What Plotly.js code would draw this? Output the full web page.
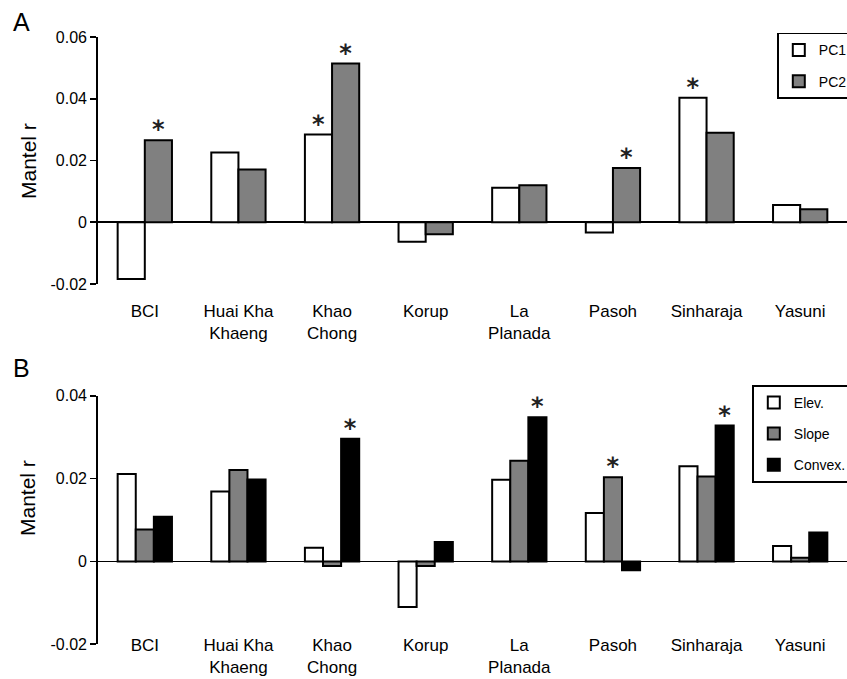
<!DOCTYPE html>
<html>
<head>
<meta charset="utf-8">
<script src="https://cdn.plot.ly/plotly-3.0.1.min.js"></script>
<style>html,body{margin:0;padding:0;background:#fff;}#chart{width:847px;height:679px;}</style>
</head>
<body>
<div id="chart"></div>
<script>
// ---- data ----
var sites = ['BCI', 'Huai Kha<br>Khaeng', 'Khao<br>Chong', 'Korup', 'La<br>Planada', 'Pasoh', 'Sinharaja', 'Yasuni'];

// Panel A
var pc1 = [-0.0184, 0.0226, 0.0284, -0.0063, 0.0112, -0.0033, 0.0403, 0.0056];
var pc2 = [0.0266, 0.0171, 0.0514, -0.0039, 0.0120, 0.0176, 0.0290, 0.0042];
var sigPC1 = [0, 0, 1, 0, 0, 0, 1, 0];
var sigPC2 = [1, 0, 1, 0, 0, 1, 0, 0];

// Panel B
var elev   = [0.0211, 0.0169, 0.0033, -0.0110, 0.0197, 0.0117, 0.0230, 0.0037];
var slope  = [0.0077, 0.0221, -0.0011, -0.0011, 0.0243, 0.0203, 0.0205, 0.0009];
var convex = [0.0108, 0.0198, 0.0296, 0.0047, 0.0348, -0.0021, 0.0328, 0.0070];
var sigElev   = [0, 0, 0, 0, 0, 0, 0, 0];
var sigSlope  = [0, 0, 0, 0, 0, 1, 0, 0];
var sigConvex = [0, 0, 1, 0, 1, 0, 1, 0];

var tickValsA = [-0.02, 0, 0.02, 0.04, 0.06];
var tickTextA = ['-0.02', '0', '0.02', '0.04', '0.06'];
var tickValsB = [-0.02, 0, 0.02, 0.04];
var tickTextB = ['-0.02', '0', '0.02', '0.04'];

// ---- helpers ----
function stars(sig) { return sig.map(function (s) { return s ? '\u204E' : ''; }); }
var FONT = 'Arial, "Liberation Sans", sans-serif';

function barTrace(name, vals, sig, color, xa, ya, leg) {
  return {
    type: 'bar', name: name, x: sites, y: vals, xaxis: xa, yaxis: ya,
    legend: leg, legendgroup: name,
    marker: {color: color, line: {color: '#000', width: 2}},
    text: stars(sig), textposition: 'outside', cliponaxis: false,
    constraintext: 'none',
    textfont: {family: '"DejaVu Sans", sans-serif', size: 24, color: '#222', weight: 'bold'},
    hoverinfo: 'x+y'
  };
}

var data = [
  barTrace('PC1', pc1, sigPC1, '#ffffff', 'x', 'y', 'legend'),
  barTrace('PC2', pc2, sigPC2, '#808080', 'x', 'y', 'legend'),
  barTrace('Elev.', elev, sigElev, '#ffffff', 'x2', 'y2', 'legend2'),
  barTrace('Slope', slope, sigSlope, '#808080', 'x2', 'y2', 'legend2'),
  barTrace('Convex.', convex, sigConvex, '#000000', 'x2', 'y2', 'legend2')
];

var xCommon = {
  type: 'category', domain: [0.1157, 1], showline: false, ticks: '',
  showgrid: false, zeroline: false,
  tickfont: {family: FONT, size: 17, color: '#000'}
};
var yCommon = {
  showline: true, linecolor: '#000', linewidth: 1.8, ticks: 'outside',
  ticklen: 6, tickwidth: 1.8, tickcolor: '#000', showgrid: false,
  zeroline: true, zerolinecolor: '#000', zerolinewidth: 1.8,
  tickfont: {family: FONT, size: 16, color: '#000'}
};

var layout = {
  width: 847, height: 679,
  margin: {l: 0, r: 0, t: 0, b: 0, autoexpand: false},
  paper_bgcolor: '#fff', plot_bgcolor: 'rgba(0,0,0,0)',
  showlegend: true,
  barmode: 'group',
  font: {family: FONT, color: '#000'},
  xaxis: Object.assign({}, xCommon, {anchor: 'free', position: 0.560}),
  yaxis: Object.assign({}, yCommon, {domain: [0.5817, 0.9455], range: [-0.02, 0.06],
    tickvals: tickValsA, ticktext: tickTextA, anchor: 'x'}),
  xaxis2: Object.assign({}, xCommon, {anchor: 'free', position: 0.068}),
  yaxis2: Object.assign({}, yCommon, {domain: [0.0511, 0.4172], range: [-0.02, 0.04],
    tickvals: tickValsB, ticktext: tickTextB, anchor: 'x2'}),
  bargap: 0.42,
  legend: {x: 777/847, y: 0.952, xanchor: 'left', yanchor: 'top',
    bordercolor: '#000', borderwidth: 1.8, bgcolor: '#fff',
    font: {family: FONT, size: 14, color: '#000'}, tracegroupgap: 10,
    traceorder: 'grouped', itemwidth: 30},
  legend2: {x: 752/847, y: 0.433, xanchor: 'left', yanchor: 'top',
    bordercolor: '#000', borderwidth: 1.8, bgcolor: '#fff',
    font: {family: FONT, size: 14, color: '#000'}, tracegroupgap: 10,
    traceorder: 'grouped', itemwidth: 30},
  annotations: [
    {text: 'A', xref: 'paper', yref: 'paper', x: 0.013, y: 1 - 6/679, xanchor: 'left', yanchor: 'top',
      showarrow: false, font: {family: FONT, size: 25, color: '#000'}},
    {text: 'B', xref: 'paper', yref: 'paper', x: 0.013, y: 1 - 352/679, xanchor: 'left', yanchor: 'top',
      showarrow: false, font: {family: FONT, size: 25, color: '#000'}},
    {text: 'Mantel r', xref: 'paper', yref: 'paper', x: 28/847, y: 1 - 161/679, textangle: -90,
      xanchor: 'center', yanchor: 'middle',
      showarrow: false, font: {family: FONT, size: 21, color: '#000'}},
    {text: 'Mantel r', xref: 'paper', yref: 'paper', x: 28/847, y: 1 - 498/679, textangle: -90,
      xanchor: 'center', yanchor: 'middle',
      showarrow: false, font: {family: FONT, size: 21, color: '#000'}}
  ]
};

Plotly.newPlot('chart', data, layout, {staticPlot: true});
</script>
</body>
</html>
